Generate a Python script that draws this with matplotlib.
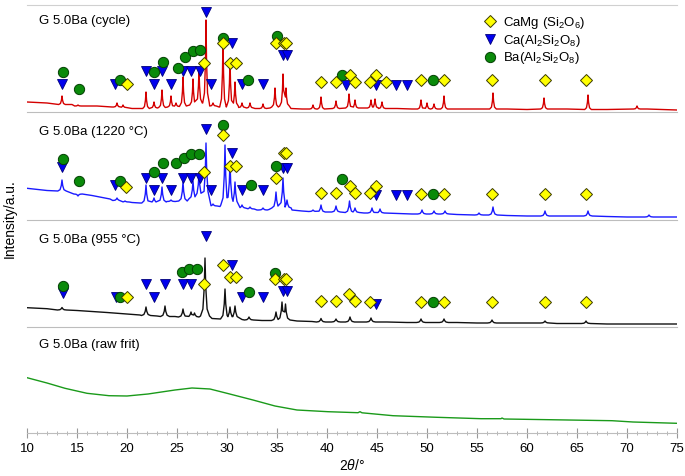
import numpy as np
import matplotlib
matplotlib.use("Agg")
import matplotlib.pyplot as plt
from matplotlib.ticker import MultipleLocator

plt.rcParams['font.family'] = ['Liberation Sans', 'DejaVu Sans']
plt.rcParams['mathtext.fontset'] = 'custom'
plt.rcParams['mathtext.rm'] = 'Liberation Sans'
plt.rcParams['mathtext.it'] = 'Liberation Sans:italic'

# ---- data (2theta in degrees, intensity in arbitrary offset units) ----
# G 5.0Ba (cycle)
red_base_x = [10, 12, 14.5, 17, 18.5, 20.5, 21.5, 28.2, 29.2, 32.8, 34.3, 36.4, 37.5,
              43.5, 47, 48.5, 53, 55, 58, 60, 64, 68, 72, 75]
red_base_y = [10, 9, 7.5, 6, 5, 3.5, 3.5, 6, 5, 3.5, 4, 3.5, 3,
              4, 3.5, 3, 3, 3, 3, 2.5, 3, 2.5, 3, 2]
red_pk_x = [13.5, 15.1, 19.0, 19.6, 21.9, 22.7, 23.5, 24.4, 24.9, 25.6, 26.6, 27.2, 27.9,
            28.6, 29.6, 30.3, 30.8, 31.5, 32.3, 33.6, 34.8, 35.6, 35.9, 38.6, 39.4, 40.9,
            42.2, 42.8, 44.4, 44.8, 45.5, 49.4, 50.0, 50.7, 51.7, 56.6, 61.7, 66.1, 71.0]
red_pk_top = [16, 7, 9, 7, 20, 10, 22, 16, 9, 35, 33, 43, 92,
              9, 72, 52, 30, 9, 9, 8, 24, 38, 24, 7, 15, 11,
              18, 12, 12, 13, 10, 12, 9, 8, 16, 19, 14, 17, 6]
red_pk_foot = [7.5, 6, 5, 4.5, 3.5, 4, 4.5, 5, 5.5, 6, 7, 9, 9,
               6, 5, 6, 6, 4.5, 4, 3.5, 5, 6, 6, 3, 3, 3.5,
               4, 4, 4, 4, 3.5, 3, 3, 3, 3, 3, 3, 2.5, 3]

# G 5.0Ba (1220 °C)
blue_base_x = [10, 12, 14.3, 16.5, 18.3, 20.5, 21.3, 28.3, 29.3, 31.1, 33, 34.2, 36.5, 37.5,
               43.7, 47, 48.5, 53, 58, 60, 64, 68, 70, 75]
blue_base_y = [31.7, 29.5, 27.5, 24.5, 21, 17.5, 17, 15, 13.5, 13, 10, 10.5, 10, 9,
               7, 6.5, 6, 5.5, 4.5, 4, 4, 3.5, 3, 3]
blue_pk_x = [13.5, 15.1, 19.0, 19.8, 21.9, 22.7, 23.5, 24.4, 25.6, 26.6, 27.2, 27.9, 28.6,
             29.8, 30.3, 30.8, 31.5, 32.3, 33.6, 34.9, 35.6, 36.0, 38.6, 39.4, 40.9, 42.25,
             42.8, 44.5, 45.3, 49.5, 50.7, 51.8, 55.2, 56.6, 61.8, 66.1, 72.2]
blue_pk_top = [40, 24, 22, 19, 35, 22, 33, 20, 38, 39, 47, 77, 16,
               75, 57, 38, 15, 13, 12, 28, 42, 20, 10, 15, 14, 19,
               12, 12, 11, 10, 9, 9, 7, 13, 9, 9, 5]
blue_pk_foot = [29, 26, 19.5, 18, 17, 17.5, 18, 18.5, 19, 21, 24, 22, 14,
                15, 18, 16, 12, 11, 10, 12, 14, 12, 8.5, 8, 8, 7.5,
                7.5, 7, 7, 6, 6, 6, 5, 5, 4, 4, 3]

# G 5.0Ba (955 °C)
black_base_x = [10, 12, 15, 18, 20, 21.3, 23, 24.8, 28.5, 29.3, 31.5, 33.5, 37, 38.5,
                43.5, 46, 48, 53, 55, 58, 60, 63, 68, 72, 75]
black_base_y = [19.3, 18.3, 16.5, 14.5, 13, 12, 11, 10.5, 8.5, 8, 7.5, 6.5, 6, 5.5,
                5, 5, 4.5, 4.5, 4, 4, 4, 3.5, 3, 3, 3]
black_pk_x = [13.5, 21.9, 23.8, 25.6, 26.4, 26.75, 27.8, 29.8, 30.3, 30.8, 32.2, 34.9, 35.5,
              35.85, 39.4, 40.9, 42.3, 44.4, 49.4, 51.7, 56.5, 61.8, 65.9]
black_pk_top = [19.5, 20, 21, 18, 15, 14, 69, 38, 20, 21, 10, 15, 25,
                23, 8.5, 8, 10, 9, 8, 8, 7, 6, 6]
black_pk_foot = [17, 11.5, 10.5, 10, 10, 10, 11, 8, 9, 9, 7, 6.5, 7,
                 7, 5, 5, 5, 5, 4.5, 4.5, 4, 4, 3.5]

# G 5.0Ba (raw frit)
frit_x = [10, 12, 13.8, 16, 18.2, 20, 22.1, 24.8, 26.5, 28.3, 30, 32.6, 34.8, 37, 40.1,
          43.1, 43.3, 43.5, 46.6, 51, 55.4, 57.4, 57.5, 57.7, 59.7, 64.1, 68.5, 70.6, 75]
frit_y = [55.3, 50, 44.7, 39.7, 37.3, 37, 39, 43, 45, 44, 39.7, 33, 27, 23, 21.3,
          20.3, 21.3, 20.2, 17.3, 15.7, 14.3, 14.3, 15, 14, 13.7, 13, 12.3, 11, 9.7]

# phase markers: (2theta, height)
red_diop = [(20.0, 27.7), (27.7, 49.3), (29.6, 68.7), (30.3, 48.7), (30.9, 48.7), (34.9, 68.7),
            (35.7, 68.7), (35.9, 68.7), (39.4, 30), (40.9, 30), (42.3, 37.5), (42.8, 30),
            (44.3, 30), (44.9, 37.5), (45.9, 30), (49.4, 32.5), (51.7, 32.5), (56.5, 32.5),
            (61.8, 32.5), (65.9, 32.5)]
red_anor = [(13.5, 27.7), (18.8, 27.7), (21.9, 41), (22.7, 27.7), (23.5, 41), (24.4, 27.7),
            (25.6, 41), (26.4, 41), (27.3, 41), (27.9, 100.3), (28.4, 27.7), (30.5, 68.7),
            (31.5, 27.7), (33.6, 27.7), (35.6, 57), (36.0, 57), (41.9, 27.4), (44.9, 27.4),
            (46.9, 27.4), (48.0, 27.4)]
red_cels = [(13.6, 40), (15.2, 23), (19.3, 32), (22.7, 39.7), (23.6, 49.7), (25.1, 43.7),
            (25.8, 55.3), (26.6, 61.3), (27.3, 62), (29.6, 74.3), (32.1, 32), (35.0, 76),
            (41.5, 37.5), (50.6, 32.5)]

blue_diop = [(19.9, 33.3), (27.7, 47.7), (29.6, 85), (30.3, 54), (30.9, 54), (34.9, 41.7),
             (35.7, 67.3), (35.9, 67.3), (39.4, 26.6), (40.9, 26.6), (42.3, 34.3), (42.8, 26.6),
             (44.3, 26.6), (44.9, 34.3), (49.4, 26), (51.7, 26), (56.5, 26), (61.8, 26),
             (65.9, 26)]
blue_anor = [(13.5, 52.7), (18.8, 35), (21.9, 42.3), (22.7, 30), (23.5, 42.3), (24.4, 30),
             (25.6, 42.3), (26.4, 42.3), (27.3, 42.3), (27.9, 90.7), (28.4, 30), (30.5, 66.7),
             (31.5, 30), (33.6, 30), (35.6, 51.7), (36.0, 51.7), (44.9, 25), (46.9, 25),
             (48.0, 25)]
blue_cels = [(13.6, 61), (15.2, 39.3), (19.3, 39.3), (22.7, 47.7), (23.6, 57.3), (24.9, 57.3),
             (25.7, 62.3), (26.4, 65.7), (27.2, 65.7), (29.6, 95), (32.4, 35), (34.9, 54),
             (41.5, 41), (50.6, 26)]

black_diop = [(20.0, 30.3), (27.7, 42.7), (29.6, 62), (30.3, 50.3), (30.9, 50.3), (34.8, 48),
              (35.7, 48), (35.9, 48), (39.4, 25.7), (40.9, 25.7), (42.2, 33.4), (42.8, 25.7),
              (44.3, 25), (49.4, 25), (51.7, 25), (56.5, 24.7), (61.8, 24.7), (65.9, 24.7)]
black_anor = [(13.6, 33.7), (18.9, 30.3), (21.9, 43), (22.7, 30.3), (23.8, 43), (25.6, 43),
              (26.4, 43), (27.9, 91), (30.5, 62), (31.5, 30.3), (33.6, 30.3), (35.6, 36.3),
              (36.0, 36.3), (44.9, 23)]
black_cels = [(13.6, 41.3), (19.3, 30.3), (25.5, 55.3), (26.2, 58), (27.0, 58), (32.2, 35.3),
              (34.8, 53.7), (50.6, 25)]

titles = ["G 5.0Ba (cycle)", "G 5.0Ba (1220 °C)", "G 5.0Ba (955 °C)", "G 5.0Ba (raw frit)"]
legend_labels = ["CaMg (Si$_2$O$_6$)", "Ca(Al$_2$Si$_2$O$_8$)", "Ba(Al$_2$Si$_2$O$_8$)"]

# peak outline (in units of the half width / of top-foot height)
shape_dx = [-3.0, -1.4, -0.5, 0.0, 0.5, 1.4, 3.0]
shape_fr = [0.0, 0.12, 0.5, 1.0, 0.5, 0.12, 0.0]


def build_trace(base_x, base_y, pk_x, pk_top, pk_foot, hw):
    reach = shape_dx[-1] * hw
    xs, ys = [], []
    # baseline anchors not covered by a peak
    for bx, by in zip(base_x, base_y):
        if all(abs(bx - p) > reach for p in pk_x):
            xs.append(bx)
            ys.append(by)
    pk = sorted(zip(pk_x, pk_top, pk_foot))
    for i, (p, t, f) in enumerate(pk):
        lo = pk[i - 1][0] if i > 0 else -np.inf
        hi = pk[i + 1][0] if i < len(pk) - 1 else np.inf
        for dx, fr in zip(shape_dx, shape_fr):
            xv = p + dx * hw
            # keep each peak's tails between its neighbours' tops
            if dx < 0 and xv <= (lo + p) / 2:
                continue
            if dx > 0 and xv >= (hi + p) / 2:
                continue
            xs.append(xv)
            ys.append(f + fr * (t - f))
    order = np.argsort(xs, kind="stable")
    return np.array(xs)[order], np.array(ys)[order]


diop_kw = dict(marker="D", ms=6.2, mfc="#ffff00", mec="#3a3a00", mew=0.7, ls="none")
anor_kw = dict(marker="v", ms=7.2, mfc="#0000ee", mec="#00007a", mew=0.6, ls="none")
cels_kw = dict(marker="o", ms=7.4, mfc="#0a8a0a", mec="#034003", mew=0.7, ls="none")

fig = plt.figure(figsize=(6.85, 4.76), dpi=100)
W, H = 685, 476
x0, x1 = 27, 677
panels = [(5, 112), (112, 220), (220, 327), (327, 433)]
axes = []
for top, bot in panels:
    ax = fig.add_axes([x0 / W, 1 - bot / H, (x1 - x0) / W, (bot - top) / H])
    ax.set_xlim(10, 75)
    ax.set_ylim(0, bot - top)
    ax.patch.set_alpha(0)
    for s in ["left", "right", "top"]:
        ax.spines[s].set_visible(False)
    ax.spines["bottom"].set_color("#bdbdbd")
    ax.set_yticks([])
    axes.append(ax)

ax_r, ax_b, ax_k, ax_g = axes
ax_r.spines["top"].set_visible(True)
ax_r.spines["top"].set_color("#d0d0d0")
for ax in axes[:3]:
    ax.set_xticks([])

x, y = build_trace(red_base_x, red_base_y, red_pk_x, red_pk_top, red_pk_foot, 0.11)
ax_r.plot(x, y, color="#d40000", lw=1.0)
x, y = build_trace(blue_base_x, blue_base_y, blue_pk_x, blue_pk_top, blue_pk_foot, 0.14)
ax_b.plot(x, y, color="#1a1aff", lw=1.0)
x, y = build_trace(black_base_x, black_base_y, black_pk_x, black_pk_top, black_pk_foot, 0.15)
ax_k.plot(x, y, color="#111111", lw=1.0)
ax_g.plot(frit_x, frit_y, color="#1a9a1a", lw=1.0)

for ax, diop, anor, cels in [(ax_r, red_diop, red_anor, red_cels),
                             (ax_b, blue_diop, blue_anor, blue_cels),
                             (ax_k, black_diop, black_anor, black_cels)]:
    ax.plot(*zip(*anor), **anor_kw, zorder=3)
    ax.plot(*zip(*cels), **cels_kw, zorder=4)
    ax.plot(*zip(*diop), **diop_kw, zorder=5)

title_y = [91, 88.5, 87, 88]
for ax, t, ty in zip(axes, titles, title_y):
    ax.text(11.2, ty, t, fontsize=9.5, va="center", ha="left")

# legend
handles = [ax_r.plot([], [], **diop_kw)[0],
           ax_r.plot([], [], **anor_kw)[0],
           ax_r.plot([], [], **cels_kw)[0]]
ax_r.legend(handles, legend_labels, loc="upper left", bbox_to_anchor=(483 / W, 1 - 15 / H),
            bbox_transform=fig.transFigure, frameon=False, fontsize=9.5, handlelength=1.0,
            handletextpad=0.55, labelspacing=0.12, borderpad=0, borderaxespad=0)

# bottom axis
ax_g.xaxis.set_major_locator(MultipleLocator(5))
ax_g.xaxis.set_minor_locator(MultipleLocator(1))
ax_g.tick_params(axis="x", which="major", direction="inout", length=7, width=0.8,
                 color="#999999", labelsize=9.5, pad=4)
ax_g.tick_params(axis="x", which="minor", direction="inout", length=3.5, width=0.6,
                 color="#aaaaaa")
ax_g.set_xlabel(r"2$\it{\theta}$/°", fontsize=10, labelpad=2)

fig.text(10 / W, 0.5 + 0.04, "Intensity/a.u.", rotation=90, fontsize=10,
         ha="center", va="center")

fig.savefig("out.png", dpi=100)
